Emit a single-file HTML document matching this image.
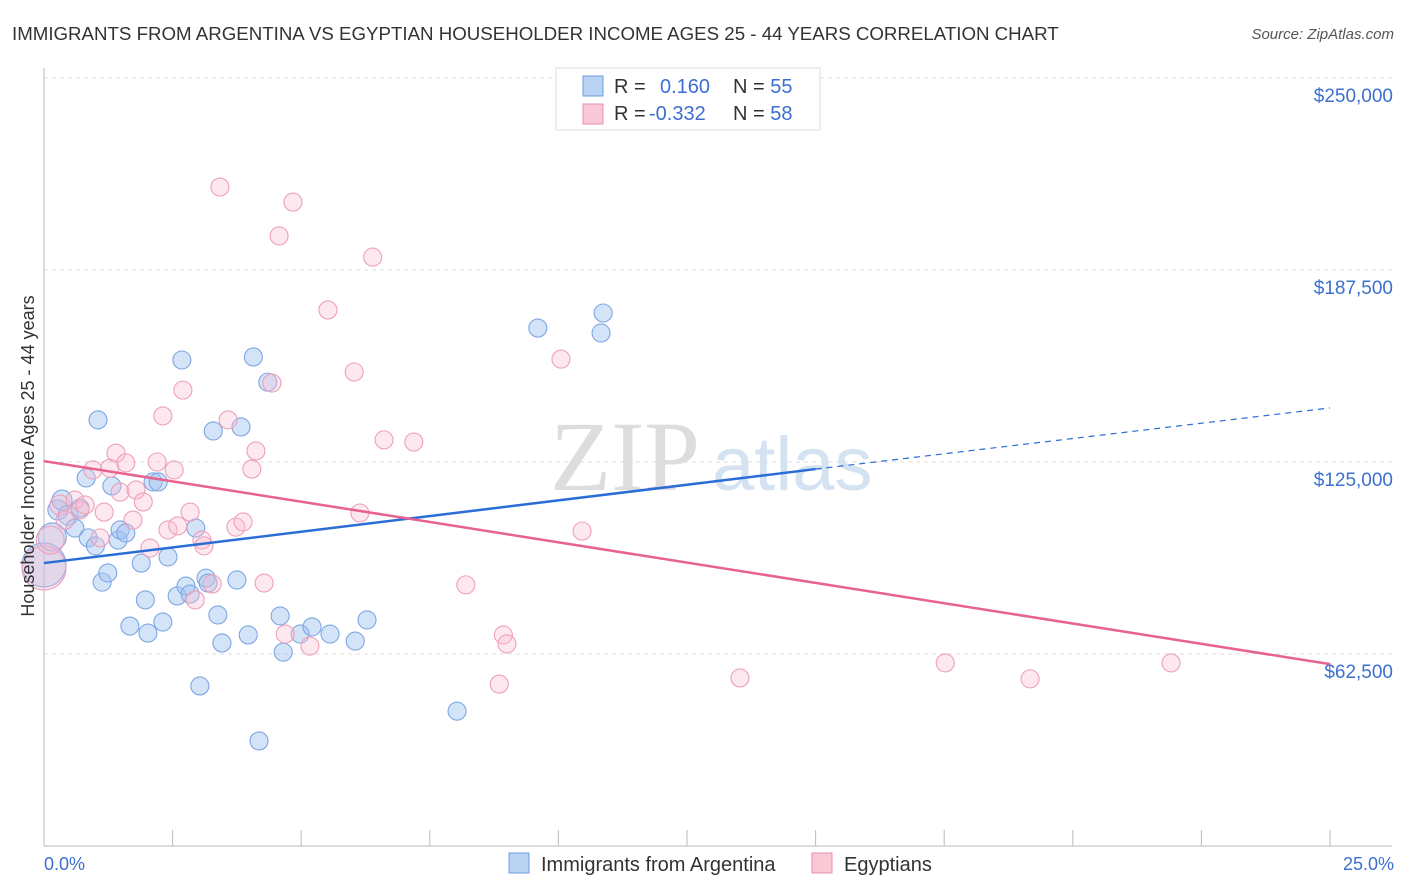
<!DOCTYPE html>
<html><head><meta charset="utf-8"><style>
body{margin:0;background:#fff;font-family:"Liberation Sans",sans-serif;}
svg{display:block}
</style></head><body>
<svg id="chart" width="1406" height="892">
<text x="12" y="40" font-size="18.7" fill="#333">IMMIGRANTS FROM ARGENTINA VS EGYPTIAN HOUSEHOLDER INCOME AGES 25 - 44 YEARS CORRELATION CHART</text>
<text x="1394" y="39" font-size="15" fill="#555" text-anchor="end" font-style="italic">Source: ZipAtlas.com</text>
<text x="700" y="490" font-size="100" fill="#ddd" text-anchor="end" font-family="Liberation Serif">ZIP</text>
<text x="712" y="490" font-size="76" fill="#d4e2f2">atlas</text>
<g id="grid"></g><g id="axes"></g><g id="pts"></g><g id="lines"></g>
<text transform="translate(34,456) rotate(-90)" font-size="18" fill="#333" text-anchor="middle">Householder Income Ages 25 - 44 years</text>
<text x="44" y="870" font-size="18" fill="#3d6fd0">0.0%</text>
<text x="1394" y="870" font-size="18" fill="#3d6fd0" text-anchor="end">25.0%</text>
<g>
<rect x="556" y="68" width="264" height="62" fill="#fff" stroke="#ddd"/>
<rect x="583" y="76" width="20" height="20" fill="#b9d3f3" stroke="#6e9be0"/>
<rect x="583" y="104" width="20" height="20" fill="#f9c8d6" stroke="#ea8fac"/>
<text x="614" y="93" font-size="20" fill="#333">R = <tspan fill="#3d6fd0" x="660">0.160</tspan><tspan x="733" fill="#333">N = </tspan><tspan fill="#3d6fd0">55</tspan></text>
<text x="614" y="120" font-size="20" fill="#333">R = <tspan fill="#3d6fd0" x="649">-0.332</tspan><tspan x="733" fill="#333">N = </tspan><tspan fill="#3d6fd0">58</tspan></text>
</g>
<g>
<rect x="509" y="853" width="20" height="20" fill="#b9d3f3" stroke="#6e9be0"/>
<text x="541" y="871" font-size="20" fill="#333">Immigrants from Argentina</text>
<rect x="812" y="853" width="20" height="20" fill="#f9c8d6" stroke="#ea8fac"/>
<text x="844" y="871" font-size="20" fill="#333">Egyptians</text>
</g>
</svg>
<script>
const yTicks=[62500,125000,187500,250000];
const yTickLabels=["$62,500","$125,000","$187,500","$250,000"];
const xTicks=[0,2.5,5,7.5,10,12.5,15,17.5,20,22.5,25];
const blueX=[0,0.16,0.27,0.35,0.47,0.6,0.7,0.82,0.86,1.0,1.05,1.13,1.24,1.32,1.44,1.48,1.59,1.67,1.89,1.97,2.02,2.12,2.22,2.31,2.41,2.68,2.59,2.76,2.84,2.95,3.03,3.15,3.19,3.29,3.38,3.46,3.75,3.83,3.97,4.07,4.18,4.35,4.59,4.65,4.98,5.21,5.56,6.05,6.28,8.03,9.6,10.83,10.87];
const blueY=[91.5,100.6,109.4,112.6,107.7,103.5,110,119.8,100.3,97.7,138.7,85.9,88.9,117.2,99.6,102.9,101.9,71.6,92.1,80.1,69.3,118.5,118.5,72.9,94.1,158.2,81.4,84.6,82.0,103.5,52.1,87.2,85.6,135.1,75.2,66.1,86.6,136.4,68.7,159.2,34.2,151.0,74.9,63.1,69.0,71.3,69.0,66.7,73.6,43.9,168.6,167.0,173.5];
const blueR=[22,14,10,10,10,9,9,9,9,9,9,9,9,9,9,9,9,9,9,9,9,9,9,9,9,9,9,9,9,9,9,9,9,9,9,9,9,9,9,9,9,9,9,9,9,9,9,9,9,9,9,9,9];
const pinkX=[0,0.12,0.31,0.41,0.6,0.7,0.8,0.95,1.09,1.17,1.28,1.4,1.48,1.59,1.79,1.93,1.73,2.06,2.2,2.31,2.41,2.53,2.6,2.7,2.84,2.94,3.07,3.11,3.27,3.42,3.58,3.73,3.87,4.04,4.12,4.28,4.43,4.57,4.69,4.84,5.17,5.52,6.03,6.14,6.39,6.61,7.19,8.2,8.85,8.93,9.0,10.05,10.46,13.53,17.52,19.17,21.91];
const pinkY=[90.5,99.6,111,106.1,112.6,109.4,111,122.4,100.3,108.7,123,127.9,115.2,124.7,115.9,112,106.1,97,125,140,102.9,122.4,104.2,148.4,108.7,80.1,99.6,97.7,85.3,214.5,138.7,103.8,105.5,122.7,128.6,85.6,150.7,198.6,69.0,209.6,65.1,174.5,154.3,108.4,191.7,132.2,131.5,85,52.7,68.7,65.8,158.5,102.5,54.7,59.6,54.4,59.6];
const pinkR=[22,14,10,9,9,9,9,9,9,9,9,9,9,9,9,9,9,9,9,9,9,9,9,9,9,9,9,9,9,9,9,9,9,9,9,9,9,9,9,9,9,9,9,9,9,9,9,9,9,9,9,9,9,9,9,9,9];
const blueTrendX=[0,15,25];
const blueTrendY=[92.1,122.7,142.6];
const pinkTrendX=[0,25];
const pinkTrendY=[125.3,59.2];
const NS="http://www.w3.org/2000/svg";
const sx=v=>44+v/25*1286;
const sy=v=>846-v/62.5*192;
function mk(tag,attrs,parent){const e=document.createElementNS(NS,tag);for(const k in attrs)e.setAttribute(k,attrs[k]);document.getElementById(parent).appendChild(e);return e;}
yTicks.forEach((t,i)=>{
 const y=sy(t/1000);
 const l=mk('line',{x1:44,x2:1392,y1:y,y2:y,stroke:'#ddd','stroke-dasharray':'4,4'},'grid');
 
 
 const tx=mk('text',{x:1393,y:y+24,'font-size':19,fill:'#3d6fd0','text-anchor':'end'},'grid');
 tx.textContent=yTickLabels[i];
 
 
});
const ax=mk('line',{x1:44,x2:44,y1:68,y2:846,stroke:'#bbb'},'axes');


const bx=mk('line',{x1:44,x2:1392,y1:846,y2:846,stroke:'#bbb'},'axes');


xTicks.forEach(t=>{
 const x=sx(t);
 const l=mk('line',{x1:x,x2:x,y1:830,y2:846,stroke:'#bbb'},'axes');
 
 
});
blueX.forEach((v,i)=>{
 const c=mk('circle',{cx:sx(v),cy:sy(blueY[i]),r:blueR[i],fill:'rgba(160,196,240,0.45)',stroke:'#7ea6e4','stroke-width':1.1},'pts');
 
 
});
pinkX.forEach((v,i)=>{
 const c=mk('circle',{cx:sx(v),cy:sy(pinkY[i]),r:pinkR[i],fill:'rgba(248,190,208,0.35)',stroke:'#eea0b8','stroke-width':1.1},'pts');
 
 
});
const b1=mk('line',{x1:sx(blueTrendX[0]),y1:sy(blueTrendY[0]),x2:sx(blueTrendX[1]),y2:sy(blueTrendY[1]),stroke:'#2a6dd6','stroke-width':2.5},'lines');


const b2=mk('line',{x1:sx(blueTrendX[1]),y1:sy(blueTrendY[1]),x2:sx(blueTrendX[2]),y2:sy(blueTrendY[2]),stroke:'#2a6dd6','stroke-width':1.2,'stroke-dasharray':'6,5'},'lines');


const p1=mk('line',{x1:sx(pinkTrendX[0]),y1:sy(pinkTrendY[0]),x2:sx(pinkTrendX[1]),y2:sy(pinkTrendY[1]),stroke:'#e8628f','stroke-width':2.5},'lines');


</script>
</body></html>
